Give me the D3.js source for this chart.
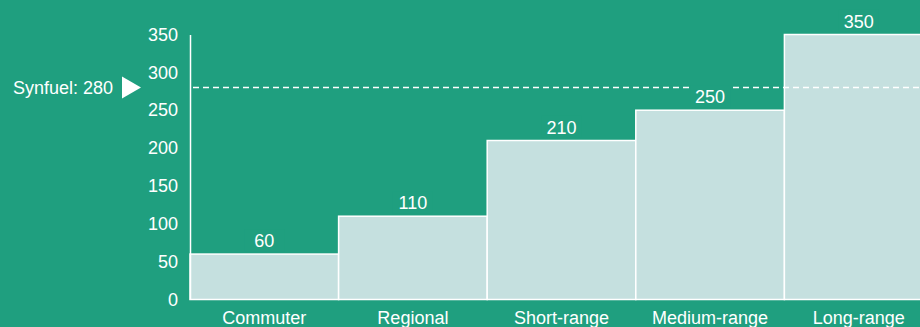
<!DOCTYPE html>
<html>
<head>
<meta charset="utf-8">
<script src="https://cdn.jsdelivr.net/npm/d3@7"></script>
<style>
  html, body { margin: 0; padding: 0; background: #1f9f7f; }
  svg { display: block; font-family: "Liberation Sans", Arial, Helvetica, sans-serif; }
</style>
</head>
<body>
<svg id="chart" width="920" height="327"></svg>
<script>
// Aircraft classes and their values
const categories = ["Commuter", "Regional", "Short-range", "Medium-range", "Long-range"];
const values = [60, 110, 210, 250, 350];
const yTicks = [0, 50, 100, 150, 200, 250, 300, 350];
// Reference line
const refLabel = "Synfuel";
const refValue = 280;

const W = 920, H = 327;
const margin = { left: 190, right: -13, top: 34.5, bottom: 27.5 };

const bg = "#1f9f7f";
const barFill = "#c5e0df";
const ink = "#ffffff";

const svg = d3.select("#chart");
svg.append("rect").attr("width", W).attr("height", H).attr("fill", bg);

const x = d3.scaleBand()
  .domain(categories)
  .range([margin.left, W - margin.right])
  .padding(0);

const y = d3.scaleLinear()
  .domain([0, 350])
  .range([H - margin.bottom, margin.top]);

// Bars
svg.append("g").selectAll("rect")
  .data(values)
  .join("rect")
  .attr("x", (d, i) => x(categories[i]))
  .attr("y", d => y(d))
  .attr("width", x.bandwidth())
  .attr("height", d => y(0) - y(d))
  .attr("fill", barFill)
  .attr("stroke", ink)
  .attr("stroke-width", 1.5);

// Y axis
const yAxis = svg.append("g")
  .attr("transform", `translate(${margin.left},0)`)
  .call(d3.axisLeft(y).tickValues(yTicks).tickSize(0).tickPadding(12));
yAxis.select(".domain").attr("stroke", ink).attr("stroke-width", 1.5);
yAxis.selectAll("text")
  .attr("fill", ink)
  .attr("font-size", 18)
  .attr("font-family", "'Liberation Sans', Arial, sans-serif");

// X axis labels
const xAxis = svg.append("g")
  .attr("transform", `translate(0,${y(0)})`)
  .call(d3.axisBottom(x).tickSize(0).tickPadding(12));
xAxis.select(".domain").remove();
xAxis.selectAll("text")
  .attr("fill", ink)
  .attr("font-size", 18)
  .attr("font-family", "'Liberation Sans', Arial, sans-serif");

// Reference line
const ry = y(refValue);
svg.append("line")
  .attr("x1", margin.left + 3)
  .attr("x2", W)
  .attr("y1", ry)
  .attr("y2", ry)
  .attr("stroke", ink)
  .attr("stroke-width", 1.5)
  .attr("stroke-dasharray", "6,4");

svg.append("text")
  .attr("x", 113)
  .attr("y", ry)
  .attr("dy", "0.35em")
  .attr("text-anchor", "end")
  .attr("fill", ink)
  .attr("font-size", 18)
  .text(`${refLabel}: ${refValue}`);

svg.append("path")
  .attr("d", d3.line()([[122, ry - 11], [141, ry], [122, ry + 11]]) + "Z")
  .attr("fill", ink);

// Value labels with a backing plate so they sit cleanly over the line
const labels = svg.append("g").selectAll("g")
  .data(values)
  .join("g")
  .attr("transform", (d, i) => `translate(${x(categories[i]) + x.bandwidth() / 2},${y(d) - 7})`);

labels.append("rect")
  .attr("x", -20)
  .attr("y", -18)
  .attr("width", 40)
  .attr("height", 22)
  .attr("fill", bg);

labels.append("text")
  .attr("text-anchor", "middle")
  .attr("fill", ink)
  .attr("font-size", 18)
  .text(d => d);
</script>
</body>
</html>
